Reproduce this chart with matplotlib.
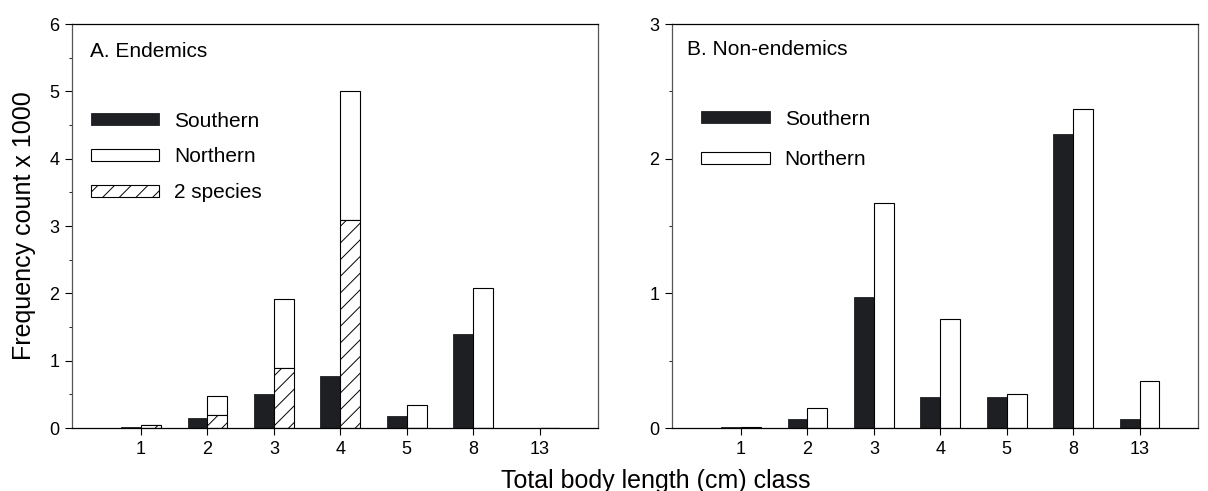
import numpy as np
import matplotlib
matplotlib.use("Agg")
import matplotlib.pyplot as plt
from matplotlib.ticker import MultipleLocator

plt.rcParams["font.family"] = ["Liberation Sans", "DejaVu Sans"]
plt.rcParams["hatch.linewidth"] = 0.7

# ── Data (frequency count x 1000) ──────────────────────────────────────────────
classes = ["1", "2", "3", "4", "5", "8", "13"]

# A. Endemics
end_southern    = [0.02, 0.15, 0.505, 0.77, 0.18, 1.39, 0.0]
end_two_species = [0.04, 0.20, 0.89, 3.09, 0.0, 0.0, 0.0]
end_northern    = [0.0, 0.27, 1.03, 1.91, 0.34, 2.08, 0.0]   # stacked above 2 species

# B. Non-endemics
non_southern = [0.005, 0.07, 0.975, 0.23, 0.23, 2.18, 0.067]
non_northern = [0.01, 0.146, 1.67, 0.81, 0.25, 2.37, 0.35]

BLACK = "#1e1f22"
W = 0.3


def style_axis(ax, ymax, ymajor):
    ax.set_xlim(-1.04, 6.88)
    ax.set_ylim(0, ymax)
    ax.set_xticks(np.arange(len(classes)))
    ax.set_xticklabels(classes)
    ax.yaxis.set_major_locator(MultipleLocator(ymajor))
    ax.yaxis.set_minor_locator(MultipleLocator(0.5))
    ax.tick_params(axis="both", which="major", direction="out", length=5,
                   width=0.8, labelsize=13, pad=4)
    ax.tick_params(axis="y", which="minor", direction="out", length=2.5,
                   width=0.6)
    for side in ["left", "right"]:
        ax.spines[side].set_color("#555555")
    for sp in ax.spines.values():
        sp.set_linewidth(0.9)


fig = plt.figure(figsize=(12.08, 4.91), dpi=100)
ax1 = fig.add_axes([0.0596, 0.1283, 0.4354, 0.8228])
ax2 = fig.add_axes([0.5563, 0.1283, 0.4354, 0.8228])

x = np.arange(len(classes))
leg_kw = dict(loc="upper left", frameon=False, fontsize=15, handlelength=3.3,
              handleheight=0.5, handletextpad=0.72, borderpad=0,
              borderaxespad=0)

# ── A. Endemics ────────────────────────────────────────────────────────────────
ax1.bar(x - W / 2, end_southern, W, color=BLACK, edgecolor=BLACK,
        linewidth=0.6, label="Southern")
ax1.bar(x + W / 2, end_northern, W, bottom=end_two_species, color="white",
        edgecolor="black", linewidth=0.8, label="Northern")
ax1.bar(x + W / 2, end_two_species, W, color="white", edgecolor="black",
        linewidth=0.8, hatch="//", label="2 species")
style_axis(ax1, 6, 1)
ax1.text(0.034, 0.931, "A. Endemics", transform=ax1.transAxes,
         fontsize=15, va="center", ha="left")
ax1.legend(bbox_to_anchor=(0.0355, 0.783), labelspacing=0.8, **leg_kw)

# ── B. Non-endemics ────────────────────────────────────────────────────────────
ax2.bar(x - W / 2, non_southern, W, color=BLACK, edgecolor=BLACK,
        linewidth=0.6, label="Southern")
ax2.bar(x + W / 2, non_northern, W, color="white", edgecolor="black",
        linewidth=0.8, label="Northern")
style_axis(ax2, 3, 1)
ax2.text(0.028, 0.938, "B. Non-endemics", transform=ax2.transAxes,
         fontsize=15, va="center", ha="left")
ax2.legend(bbox_to_anchor=(0.055, 0.788), labelspacing=1.04, **leg_kw)

fig.text(0.543, 0.006, "Total body length (cm) class", ha="center",
         va="baseline", fontsize=18)
fig.text(0.02, 0.54, "Frequency count x 1000", ha="center", va="center",
         rotation=90, fontsize=18)

fig.savefig("out.png", dpi=100)
